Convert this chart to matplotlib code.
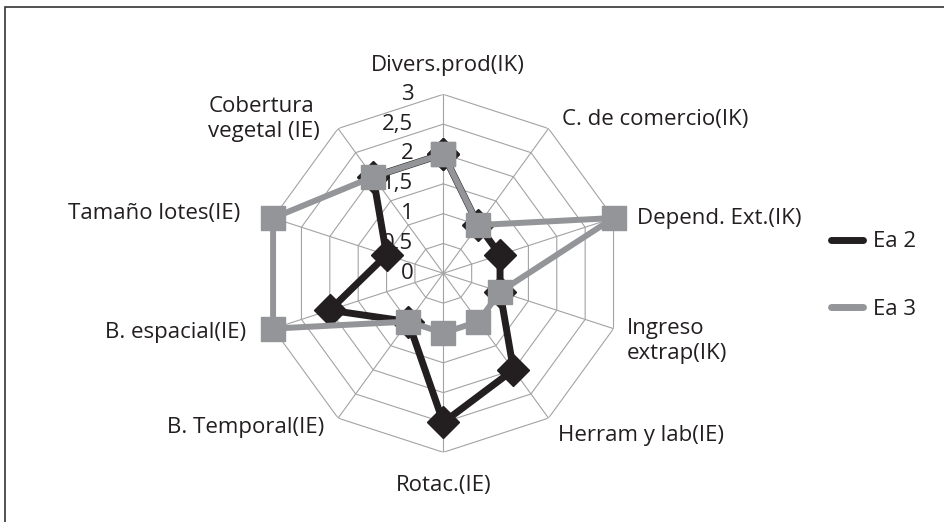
import numpy as np
import matplotlib.pyplot as plt
from matplotlib.lines import Line2D
from matplotlib.patches import Rectangle
from matplotlib.transforms import offset_copy

plt.rcParams['font.family'] = ['Open Sans', 'DejaVu Sans']

categories = ['Divers.prod(IK)', 'C. de comercio(IK)', 'Depend. Ext.(IK)',
              'Ingreso\nextrap(IK)', 'Herram y lab(IE)', 'Rotac.(IE)',
              'B. Temporal(IE)', 'B. espacial(IE)', 'Tamaño lotes(IE)',
              'Cobertura\nvegetal (IE)']
ea2 = [2, 1, 1, 1, 2, 2.5, 1, 2, 1, 2]
ea3 = [2, 1, 3, 1, 1, 1, 1, 3, 3, 2]
ticks = [0, 0.5, 1, 1.5, 2, 2.5, 3]
tick_labels = ['0', '0,5', '1', '1,5', '2', '2,5', '3']

black = '#231f20'
gray = '#939598'
grid = '#a3a3a3'
fs = 16

n = len(categories)
theta = np.linspace(0, 2 * np.pi, n, endpoint=False)
theta_c = np.append(theta, theta[0])

fig = plt.figure(figsize=(9.45, 5.22), dpi=100)
ax = fig.add_axes([0.2797, 0.1335, 0.3788, 0.6858], projection='polar')
ax.set_theta_zero_location('N')
ax.set_theta_direction(-1)
ax.set_ylim(0, 3)
ax.grid(False)
ax.spines['polar'].set_visible(False)
ax.set_xticks([])
ax.set_yticks([])
ax.patch.set_alpha(0)

# decagon grid
for r in ticks[1:]:
    ax.plot(theta_c, [r] * (n + 1), color=grid, lw=0.8, zorder=1)
for t in theta:
    ax.plot([t, t], [0, 3], color=grid, lw=0.8, zorder=1)

def shifted(base, dx, dy):
    return offset_copy(base, fig=fig, x=dx, y=dy, units='dots')

# value labels along the vertical axis
for v, lab in zip(ticks, tick_labels):
    ax.text(0.5, 0.5 + 0.5 * v / ticks[-1], lab,
            transform=shifted(ax.transAxes, -30, 0),
            ha='right', va='center', fontsize=fs, color=black)

ax.plot(theta_c, ea2 + ea2[:1], color=black, lw=5, marker='D', ms=16,
        zorder=3, solid_joinstyle='miter', clip_on=False)
ax.plot(theta_c, ea3 + ea3[:1], color=gray, lw=4.3, marker='s', ms=17,
        zorder=4, solid_joinstyle='miter', clip_on=False)

# category labels: offsets from the outer vertex (pixels)
offs = [(5, 29, 'center'), (13, 9, 'left'), (23, 0, 'left'), (13, -12, 'left'),
        (9, -17, 'left'), (0, -33, 'center'), (-14, -9, 'right'),
        (-27, -4, 'right'), (-33, 5, 'right'), (-18, 10, 'right')]
for t, lab, (dx, dy, ha) in zip(theta, categories, offs):
    ax.text(t, 3, lab, transform=shifted(ax.transData, dx, dy), ha=ha,
            va='center', multialignment='left', fontsize=fs, color=black,
            linespacing=1.25)

handles = [Line2D([], [], color=black, lw=5, solid_capstyle='round'),
           Line2D([], [], color=gray, lw=5, solid_capstyle='round')]
fig.legend(handles, ['Ea 2', 'Ea 3'], loc='center left',
           bbox_to_anchor=(0.858, 0.472), frameon=False, fontsize=fs,
           handlelength=1.45, handletextpad=0.45, labelspacing=2.1,
           labelcolor=black)

fig.add_artist(Rectangle((4.5 / 945, -0.1), 1.2, 1.1 - 6.5 / 522,
                         transform=fig.transFigure, fill=False,
                         edgecolor='#333333', lw=1.2))

fig.savefig('out.png', dpi=100)
